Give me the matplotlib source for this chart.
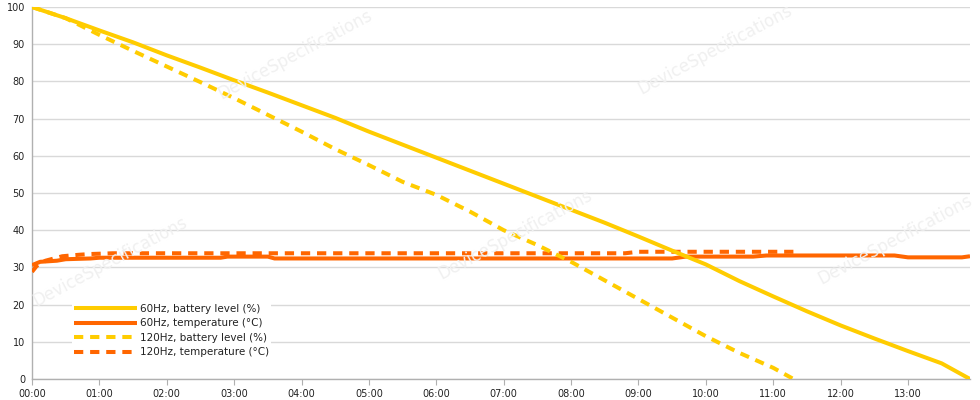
import matplotlib
matplotlib.use("Agg")
import matplotlib.pyplot as plt

# ---- data (time in hours) ----
t_bat60 = [0, 0.5, 1, 1.5, 2, 2.5, 3, 3.5, 4, 4.5, 5, 5.5, 6, 6.5, 7, 7.5, 8, 8.5,
           9, 9.5, 10, 10.5, 11, 11.5, 12, 12.5, 13, 13.5, 13.92]
bat60 = [100, 97, 93.7, 90.5, 87, 83.7, 80.3, 77, 73.6, 70.2, 66.5, 63, 59.5, 56,
         52.5, 49, 45.5, 42, 38.3, 34.5, 30.8, 26.3, 22.2, 18.2, 14.4, 10.9, 7.5, 4.2, 0]

t_bat120 = [0, 0.5, 1, 1.5, 2, 2.5, 3, 3.5, 4, 4.5, 5, 5.5, 6, 6.5, 7, 7.5, 8, 8.5,
            9, 9.5, 10, 10.5, 11, 11.3]
bat120 = [100, 97, 92.5, 88.2, 84, 79.8, 75.5, 71, 66.5, 61.8, 57.5, 53, 49.5, 45,
          40, 36, 31.5, 26.5, 21.5, 16.5, 11.5, 7, 3, 0]

t_tmp60 = [0, 0.12, 0.37, 0.5, 0.87, 1.0, 2.8, 2.9, 3.5, 3.6, 9.5, 9.7, 10.7, 10.9,
           12.8, 13.0, 13.8, 13.92]
tmp60 = [30.6, 31.5, 31.8, 32.2, 32.4, 32.6, 32.6, 32.9, 32.9, 32.4, 32.4, 32.9,
         32.9, 33.2, 33.2, 32.7, 32.7, 33.0]

t_tmp120 = [0, 0.07, 0.2, 0.45, 0.7, 0.87, 1.2, 8.8, 9.0, 11.3]
tmp120 = [28.8, 30.4, 31.8, 33.0, 33.4, 33.6, 33.8, 33.8, 34.2, 34.2]

x_ticks = list(range(14))
x_labels = ["00:00", "01:00", "02:00", "03:00", "04:00", "05:00", "06:00",
            "07:00", "08:00", "09:00", "10:00", "11:00", "12:00", "13:00"]
y_ticks = list(range(0, 101, 10))

series_labels = ["60Hz, battery level (%)", "60Hz, temperature (°C)",
                 "120Hz, battery level (%)", "120Hz, temperature (°C)"]

YELLOW = "#FFCC00"
ORANGE = "#FF6600"

plt.rcParams['font.family'] = ['DejaVu Sans']

fig = plt.figure(figsize=(9.8, 4.0), dpi=100)
W, H = 980, 400
ax = fig.add_axes([32 / W, 21 / H, 938 / W, 372 / H])

# faint watermarks
wm = [(295, 55), (715, 50), (110, 262), (515, 235), (895, 240)]
for (px, py) in wm:
    fig.text(px / W, 1 - py / H, "DeviceSpecifications", fontsize=12, color="#f0f0f0",
             rotation=28, ha="center", va="center", zorder=0)

lw = 2.9
dash = (2.3, 1.7)
l_t60, = ax.plot(t_tmp60, tmp60, color=ORANGE, lw=lw, solid_capstyle="butt", zorder=3)
l_t120, = ax.plot(t_tmp120, tmp120, color=ORANGE, lw=lw, dashes=dash, zorder=3)
l_b120, = ax.plot(t_bat120, bat120, color=YELLOW, lw=lw, dashes=dash, zorder=4)
l_b60, = ax.plot(t_bat60, bat60, color=YELLOW, lw=lw, solid_capstyle="butt", zorder=5)

ax.set_xlim(0, 13.92)
ax.set_ylim(0, 100)
ax.set_xticks(x_ticks)
ax.set_xticklabels(x_labels)
ax.set_yticks(y_ticks)
ax.grid(axis="y", color="#d9d9d9", lw=1)
ax.set_axisbelow(True)
for s in ["top", "right"]:
    ax.spines[s].set_visible(False)
for s in ["left", "bottom"]:
    ax.spines[s].set_color("#b0b0b0")
    ax.spines[s].set_linewidth(1)
ax.tick_params(axis="x", length=4, color="#b0b0b0", labelsize=7, pad=3, labelcolor="#222222")
ax.tick_params(axis="y", length=0, labelsize=7, pad=5, labelcolor="#222222")
ax.patch.set_alpha(0)

leg = ax.legend([l_b60, l_t60, l_b120, l_t120], series_labels,
                loc="upper left", bbox_to_anchor=(72 / W, 1 - 302 / H),
                bbox_transform=fig.transFigure, fontsize=7.5, frameon=True,
                framealpha=1, edgecolor="none", fancybox=False,
                handlelength=6.0, handletextpad=0.35, labelspacing=0.42,
                borderpad=0.2, borderaxespad=0)
leg.set_zorder(6)
for txt in leg.get_texts():
    txt.set_color("#222222")

fig.savefig("out.png", dpi=100)
